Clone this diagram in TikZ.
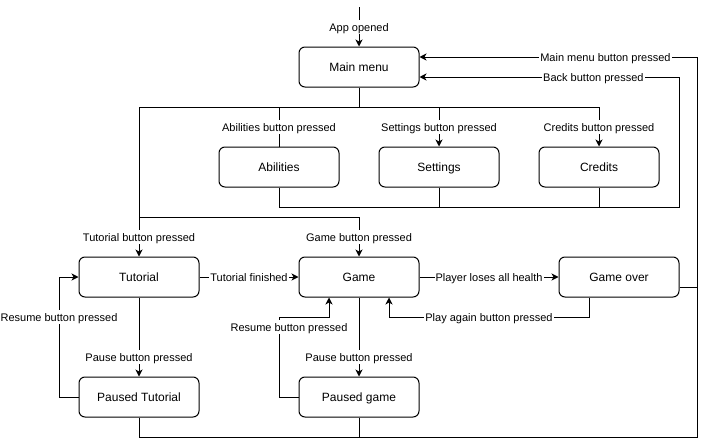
\documentclass[tikz,border=0pt]{standalone}
\usepackage{fontspec}
\setmainfont{Liberation Sans}
\usetikzlibrary{arrows.meta}
\begin{document}
\begin{tikzpicture}[x=1pt,y=-1pt,line width=1pt,
  box/.style={draw,rounded corners=6pt,minimum width=120pt,minimum height=40pt,inner sep=0pt,text height=9.6pt,text depth=0pt,font=\fontsize{12}{14}\selectfont},
  lbl/.style={fill=white,inner xsep=1pt,inner ysep=2.5pt,text height=9pt,text depth=0.2pt,font=\fontsize{11}{13}\selectfont},
  arr/.style={-{Stealth[length=7pt,width=7pt,inset=2pt]}}]
\useasboundingbox (0,0) rectangle (707,439);
% nodes
\node[box] (main) at (359,67) {Main menu};
\node[box] (abil) at (279,167) {Abilities};
\node[box] (sett) at (439,167) {Settings};
\node[box] (cred) at (599,167) {Credits};
\node[box] (tut) at (139,277) {Tutorial};
\node[box] (game) at (359,277) {Game};
\node[box] (gover) at (619,277) {Game over};
\node[box] (ptut) at (139,397) {Paused Tutorial};
\node[box] (pgame) at (359,397) {Paused game};
% coordinates
\coordinate (start) at (359,7);
\coordinate (j1) at (359,107);
\coordinate (mL) at (139,107);
\coordinate (mR) at (599,107);
\coordinate (ja) at (279,107);
\coordinate (js) at (439,107);
\coordinate (tg) at (139,217);
\coordinate (gg) at (359,217);
\coordinate (b1) at (279,207);
\coordinate (b2) at (679,207);
\coordinate (b3) at (679,77);
\coordinate (bs) at (439,207);
\coordinate (bc) at (599,207);
\coordinate (r1) at (697,57);
\coordinate (r2) at (697,437);
\coordinate (r3) at (139,437);
\coordinate (rg) at (697,287);
\coordinate (rpg) at (359,437);
\coordinate (p1) at (589,317);
\coordinate (p2) at (389,317);
\coordinate (t1) at (59,397);
\coordinate (t2) at (59,277);
\coordinate (g1) at (279,397);
\coordinate (g2) at (279,317);
\coordinate (g3) at (329,317);
% connectors
\draw[arr] (start) -- node[lbl]{App opened} (main.north);
\draw (main.south) -- (j1);
\draw (mL) -- (mR);
\draw (ja) -- node[lbl]{Abilities button pressed} (abil.north);
\draw[arr] (js) -- node[lbl]{Settings button pressed} (sett.north);
\draw[arr] (mR) -- node[lbl]{Credits button pressed} (cred.north);
\draw (mL) -- (tg) -- (gg);
\draw[arr] (tg) -- node[lbl]{Tutorial button pressed} (tut.north);
\draw[arr] (gg) -- node[lbl]{Game button pressed} (game.north);
\draw (abil.south) -- (b1) -- (b2) -- (b3);
\draw (sett.south) -- (bs);
\draw (cred.south) -- (bc);
\draw[arr] (b3) -- node[lbl,pos=0.33]{Back button pressed} (main.east |- b3);
\draw (r3) -- (r2) -- (r1);
\draw[arr] (r1) -- node[lbl,pos=0.33]{Main menu button pressed} (main.east |- r1);
\draw (gover.east |- rg) -- (rg);
\draw (ptut.south) -- (r3);
\draw (pgame.south) -- (rpg);
\draw[arr] (tut.east) -- node[lbl]{Tutorial finished} (game.west);
\draw[arr] (game.east) -- node[lbl]{Player loses all health} (gover.west);
\draw[arr] (gover.south -| p1) -- (p1) -- node[lbl]{Play again button pressed} (p2) -- (game.south -| p2);
\draw[arr] (tut.south) -- node[lbl,pos=0.75]{Pause button pressed} (ptut.north);
\draw[arr] (game.south) -- node[lbl,pos=0.75]{Pause button pressed} (pgame.north);
\draw[arr] (ptut.west) -- (t1) -- node[lbl,pos=0.667]{Resume button pressed} (t2) -- (tut.west);
\draw[arr] (pgame.west) -- (g1) -- node[lbl,pos=0.875,xshift=10pt]{Resume button pressed} (g2) -- (g3) -- (game.south -| g3);
\end{tikzpicture}
\end{document}
